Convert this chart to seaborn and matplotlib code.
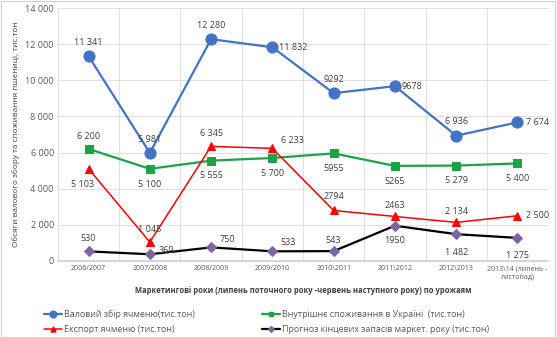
import matplotlib
matplotlib.use("Agg")
import matplotlib.pyplot as plt
import seaborn as sns
import pandas as pd
import numpy as np

categories = ["2006/2007", "2007/2008", "2008/2009", "2009/2010", "2010\\2011",
              "2011\\2012", "2012\\2013", "2013\\14 (липень -\nлистопад)"]
gross = [11341, 5981, 12280, 11832, 9292, 9678, 6936, 7674]
gross_lbl = ["11 341", "5 981", "12 280", "11 832", "9292", "9678", "6 936", "7 674"]
domestic = [6200, 5100, 5555, 5700, 5955, 5265, 5279, 5400]
domestic_lbl = ["6 200", "5 100", "5 555", "5 700", "5955", "5265", "5 279", "5 400"]
export = [5103, 1045, 6345, 6233, 2794, 2463, 2134, 2500]
export_lbl = ["5 103", "1 045", "6 345", "6 233", "2794", "2463", "2 134", "2 500"]
stocks = [530, 369, 750, 533, 543, 1950, 1482, 1275]
stocks_lbl = ["530", "369", "750", "533", "543", "1950", "1 482", "1 275"]

names = ["Валовий збір ячменю(тис.тон)", "Внутрішнє споживання в Україні  (тис.тон)",
         "Експорт ячменю (тис.тон)", "Прогноз кінцевих запасів маркет. року (тис.тон)"]

sns.set_theme(style="white")
plt.rcParams['font.family'] = ['Open Sans', 'DejaVu Sans']

fig = plt.figure(figsize=(5.57, 3.38), dpi=100)
ax = fig.add_axes([0.104, 0.228, 0.880, 0.748])

x = np.arange(len(categories))
series = [
    (gross, gross_lbl, "#4472C4", "#4472C4", "o", 8, 1.6),
    (domestic, domestic_lbl, "#1BA346", "#1BA346", "s", 6, 1.6),
    (export, export_lbl, "#FF0000", "#FF0000", "^", 6, 1.1),
    (stocks, stocks_lbl, "#000000", "#8064A2", "D", 5, 1.6),
]
handles = []
for (vals, lbls, lc, mc, mk, ms, lw), nm in zip(series, names):
    df = pd.DataFrame({"x": x, "y": vals})
    sns.lineplot(data=df, x="x", y="y", ax=ax, color=lc, linewidth=lw,
                 marker=mk, markersize=ms, markerfacecolor=mc, markeredgecolor=mc)
    h, = ax.plot([], [], color=lc, linewidth=lw, marker=mk, markersize=ms * 0.6,
                 markerfacecolor=mc, markeredgecolor=mc)
    handles.append(h)

# label offsets in points (dx, dy, ha)
offs = {
    0: [(0, 10, "center"), (0, 10, "center"), (0, 10, "center"), (5, 0, "left"),
        (0, 10, "center"), (5, 0, "left"), (0, 10, "center"), (6, 0, "left")],
    1: [(0, 9, "center"), (0, -11, "center"), (0, -11, "center"), (0, -11, "center"),
        (0, -11, "center"), (0, -11, "center"), (0, -11, "center"), (0, -11, "center")],
    2: [(-4, -11, "center"), (0, 9, "center"), (0, 9, "center"), (6, 6, "left"),
        (0, 10, "center"), (0, 8, "center"), (0, 8, "center"), (6, 0, "left")],
    3: [(0, 9, "center"), (6, 3, "left"), (6, 6, "left"), (6, 6, "left"),
        (0, 8, "center"), (0, -11, "center"), (0, -13, "center"), (0, -13, "center")],
}
for si, (vals, lbls, *_rest) in enumerate(series):
    for i, (v, t) in enumerate(zip(vals, lbls)):
        dx, dy, ha = offs[si][i]
        ax.annotate(t, (i, v), xytext=(dx, dy), textcoords="offset points",
                    ha=ha, va="center", fontsize=6.5, color="#404040")

ax.set_xlim(-0.5, len(categories) - 0.5)
ax.set_ylim(0, 14000)
ax.set_yticks(np.arange(0, 14001, 2000))
ax.set_yticklabels([f"{v:,}".replace(",", " ") for v in range(0, 14001, 2000)],
                   fontsize=6.5, color="#595959")
ax.set_xticks(x)
ax.set_xticklabels(categories, fontsize=5, color="#595959")
ax.set_xticks(np.arange(-0.5, len(categories), 1), minor=True)
ax.grid(axis="y", color="#E0E0E0", linewidth=0.7)
ax.grid(axis="x", which="minor", color="#E0E0E0", linewidth=0.7)
ax.grid(axis="x", which="major", visible=False)
ax.tick_params(axis="both", which="both", length=0, pad=3)
for sp in ax.spines.values():
    sp.set_visible(False)
ax.spines["bottom"].set_visible(True)
ax.spines["bottom"].set_color("#D0D0D0")

ax.set_xlabel("Маркетингові роки (липень поточного року -червень наступного року) по урожаям",
              fontsize=5.5, fontweight="bold", color="#404040", labelpad=4)
ax.set_ylabel("Обсяги валового збору та споживання пшениці, тис.тон",
              fontsize=5.9, color="#404040", labelpad=4)

order = [0, 2, 1, 3]
fig.legend([handles[i] for i in order], [names[i] for i in order],
           loc="lower left", bbox_to_anchor=(0.065, -0.012), ncol=2,
           frameon=False, fontsize=6.4, handlelength=2.0, handletextpad=0.2,
           columnspacing=7.6, labelcolor="#595959", labelspacing=0.7)

fig.patches.append(plt.Rectangle((0.002, 0.003), 0.995, 0.994, transform=fig.transFigure,
                                 fill=False, edgecolor="#D0D0D0", linewidth=0.8))
fig.savefig("out.png", dpi=100)
